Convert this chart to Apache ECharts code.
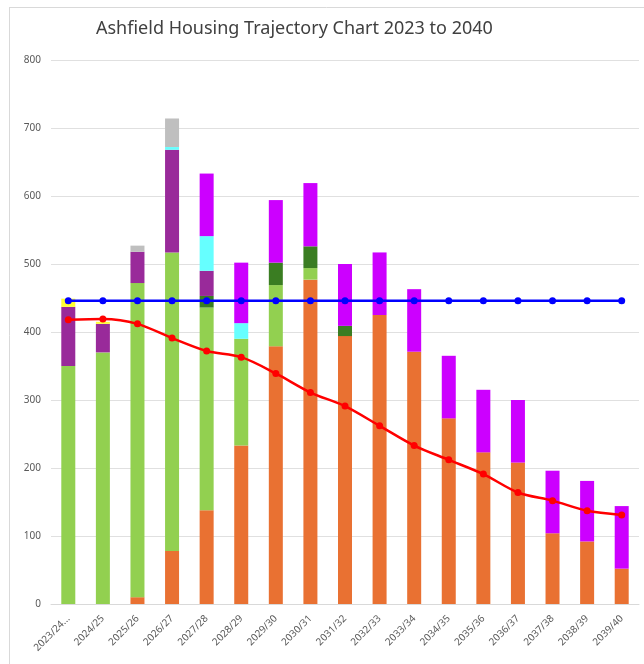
<!DOCTYPE html>
<html><head><meta charset="utf-8">
<script src="https://cdn.jsdelivr.net/npm/echarts@6/dist/echarts.min.js"></script>
<style>html,body{margin:0;padding:0;background:#fff}#c{width:644px;height:664px}</style>
</head><body><div id="c"></div>
<script>
const categories = ["2023/24...","2024/25","2025/26","2026/27","2027/28","2028/29","2029/30","2030/31","2031/32","2032/33","2033/34","2034/35","2035/36","2036/37","2037/38","2038/39","2039/40"];
const orangeVals  = [0,0,10,78,138,233,379,477,394,425,371,273,223,208,104,92,52];
const greenVals   = [350,370,462,439,298,157,90,17,0,0,0,0,0,0,0,0,0];
const dkGreenVals = [0,0,0,0,17,0,33,32,15,0,0,0,0,0,0,0,0];
const purpleVals  = [87,42,46,151,37,0,0,0,0,0,0,0,0,0,0,0,0];
const cyanVals    = [0,0,0,4,51,23,0,0,0,0,0,0,0,0,0,0,0];
const magentaVals = [0,0,0,0,92,89,92,93,91,92,92,92,92,92,92,89,92];
const greyVals    = [0,0,9,42,0,0,0,0,0,0,0,0,0,0,0,0,0];
const yellowVals  = [12,3,0,0,0,0,0,0,0,0,0,0,0,0,0,0,0];
const targetVals  = [446,446,446,446,446,446,446,446,446,446,446,446,446,446,446,446,446];
const trendVals   = [418,419,412,391,372,363,339,311,291,262,233,212,191,164,152,137,131];
const yTicks = [0,100,200,300,400,500,600,700,800];

function bar(name, data, color){
  return {name, type:'bar', stack:'s', data, barWidth:14, itemStyle:{color}, emphasis:{disabled:true}};
}
const chart = echarts.init(document.getElementById('c'), null, {renderer:'canvas'});
chart.setOption({
  animation:false,
  backgroundColor:'#fff',
  title:{text:'Ashfield Housing Trajectory Chart 2023 to 2040', left:91, top:15,
    textStyle:{fontFamily:'Noto Sans', fontSize:18, fontWeight:'normal', color:'#404040'}},
  grid:{left:51, right:5, top:60, bottom:60},
  xAxis:{type:'category', data:categories,
    axisLine:{lineStyle:{color:'#d9d9d9'}}, axisTick:{show:false},
    axisLabel:{rotate:45, interval:0, fontSize:10, color:'#595959', fontFamily:'Noto Sans', margin:13}},
  yAxis:{type:'value', min:yTicks[0], max:yTicks[yTicks.length-1], interval:100,
    axisLine:{show:false}, axisTick:{show:false},
    splitLine:{lineStyle:{color:'#e0e0e0'}},
    axisLabel:{fontSize:10, color:'#595959', fontFamily:'Noto Sans', margin:10}},
  graphic:[
    {type:'line', shape:{x1:9.5,y1:7,x2:9.5,y2:664}, style:{stroke:'#d9d9d9', lineWidth:1}},
    {type:'line', shape:{x1:9,y1:7.5,x2:644,y2:7.5}, style:{stroke:'#d9d9d9', lineWidth:1}}
  ],
  series:[
    bar('Orange', orangeVals, '#E97132'),
    bar('Green', greenVals, '#92D050'),
    bar('Dark green', dkGreenVals, '#3A7D22'),
    bar('Purple', purpleVals, '#992A9A'),
    bar('Cyan', cyanVals, '#66FFFF'),
    bar('Magenta', magentaVals, '#CC00FF'),
    bar('Grey', greyVals, '#BFBFBF'),
    bar('Yellow', yellowVals, '#FFFF33'),
    {name:'Target', type:'line', data:targetVals, symbol:'circle', symbolSize:7,
      lineStyle:{color:'#0000FF', width:2.5}, itemStyle:{color:'#0000FF'}, z:5},
    {name:'Trend', type:'line', data:trendVals, smooth:0.3, symbol:'circle', symbolSize:7,
      lineStyle:{color:'#FF0000', width:2.5}, itemStyle:{color:'#FF0000'}, z:5}
  ]
});
</script></body></html>
